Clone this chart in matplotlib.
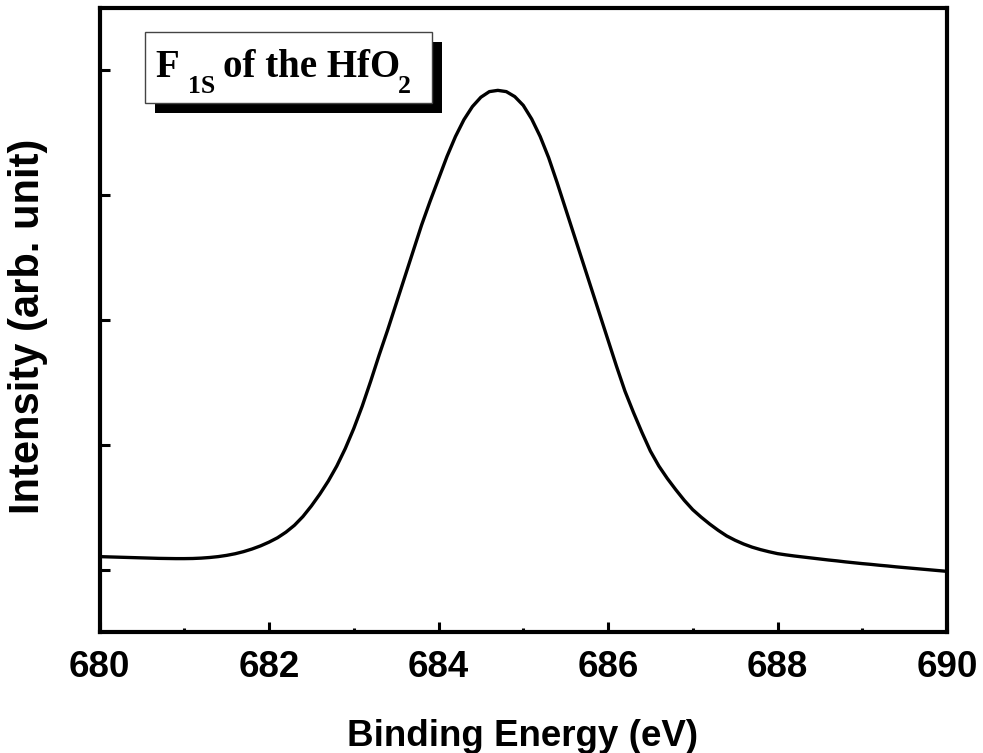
import matplotlib
matplotlib.use("Agg")
import matplotlib.pyplot as plt
from matplotlib.patches import Rectangle
from matplotlib.ticker import MultipleLocator, NullFormatter

# F 1s core-level spectrum, 0.1 eV steps (arbitrary intensity units)
binding_energy = [round(680.0 + 0.1 * i, 1) for i in range(101)]
intensity = [
    0.104, 0.102, 0.100, 0.098, 0.096, 0.094, 0.092, 0.090, 0.089, 0.088,   # 680.0-680.9
    0.088, 0.089, 0.092, 0.097, 0.104, 0.114, 0.127, 0.144, 0.165, 0.190,   # 681.0-681.9
    0.220, 0.255, 0.300, 0.355, 0.425, 0.510, 0.605, 0.710, 0.830, 0.970,   # 682.0-682.9
    1.130, 1.310, 1.510, 1.720, 1.920, 2.130, 2.340, 2.550, 2.760, 2.950,   # 683.0-683.9
    3.130, 3.310, 3.470, 3.605, 3.710, 3.785, 3.830, 3.840, 3.830, 3.790,   # 684.0-684.9
    3.720, 3.610, 3.470, 3.300, 3.100, 2.890, 2.680, 2.470, 2.260, 2.050,   # 685.0-685.9
    1.840, 1.630, 1.430, 1.260, 1.100, 0.950, 0.830, 0.730, 0.640, 0.555,   # 686.0-686.9
    0.480, 0.420, 0.365, 0.315, 0.270, 0.235, 0.205, 0.180, 0.160, 0.143,   # 687.0-687.9
    0.128, 0.118, 0.109, 0.101, 0.093, 0.085, 0.077, 0.070, 0.062, 0.055,   # 688.0-688.9
    0.048, 0.042, 0.035, 0.029, 0.022, 0.016, 0.010, 0.004, -0.002, -0.008, # 689.0-689.9
    -0.014,                                                                  # 690.0
]
x_ticks = [680, 682, 684, 686, 688, 690]
y_ticks = [0, 1, 2, 3, 4]

W, H = 983, 753
fig = plt.figure(figsize=(W / 100, H / 100), dpi=100)
ax = fig.add_axes([99.5 / W, 1 - 632 / H, (947 - 99.5) / W, (632 - 8) / H])

ax.plot(binding_energy, intensity, color="black", lw=2.4,
        solid_joinstyle="round", solid_capstyle="round")

ax.set_xlim(680, 690)
ax.set_ylim(-0.5, 4.5)
ax.set_xticks(x_ticks)
ax.xaxis.set_minor_locator(MultipleLocator(1))
ax.set_yticks(y_ticks)
ax.yaxis.set_major_formatter(NullFormatter())

for s in ax.spines.values():
    s.set_linewidth(3.0)

ax.tick_params(axis="both", which="major", direction="in", length=7.5, width=2.2,
               top=False, right=False)
ax.tick_params(axis="x", which="minor", direction="in", length=3.2, width=2.2,
               top=False)
ax.tick_params(axis="x", which="major", pad=13)
for lab in ax.get_xticklabels():
    lab.set_fontfamily("Liberation Sans")
    lab.set_fontweight("bold")
    lab.set_fontsize(26.5)

fig.text(523 / W, 1 - 746 / H, "Binding Energy (eV)", ha="center", va="baseline",
         family="Liberation Sans", weight="bold", fontsize=26.5)
fig.text(28 / W, 1 - 326 / H, "Intensity (arb. unit)", ha="center", va="center",
         rotation=90, family="Liberation Sans", weight="bold", fontsize=30)

# annotation box with drop shadow
bx0, bx1, by0, by1 = 145, 432, 32, 103
shadow = Rectangle(((bx0 + 10) / W, 1 - (by1 + 10) / H), (bx1 - bx0) / W, (by1 - by0) / H,
                   transform=fig.transFigure, facecolor="black", edgecolor="black", lw=0)
box = Rectangle((bx0 / W, 1 - by1 / H), (bx1 - bx0) / W, (by1 - by0) / H,
                transform=fig.transFigure, facecolor="white", edgecolor="#444444", lw=1.0)
fig.patches.extend([shadow, box])

serif = dict(family="Liberation Serif", weight="bold", va="baseline", ha="left")
fig.text(155 / W, 1 - 77 / H, "F", fontsize=28, **serif)
fig.text(188 / W, 1 - 93 / H, "1S", fontsize=18.5, **serif)
fig.text(223 / W, 1 - 77 / H, "of the HfO", fontsize=28, **serif)
fig.text(398 / W, 1 - 93 / H, "2", fontsize=18.5, **serif)

fig.savefig("out.png", dpi=100)
